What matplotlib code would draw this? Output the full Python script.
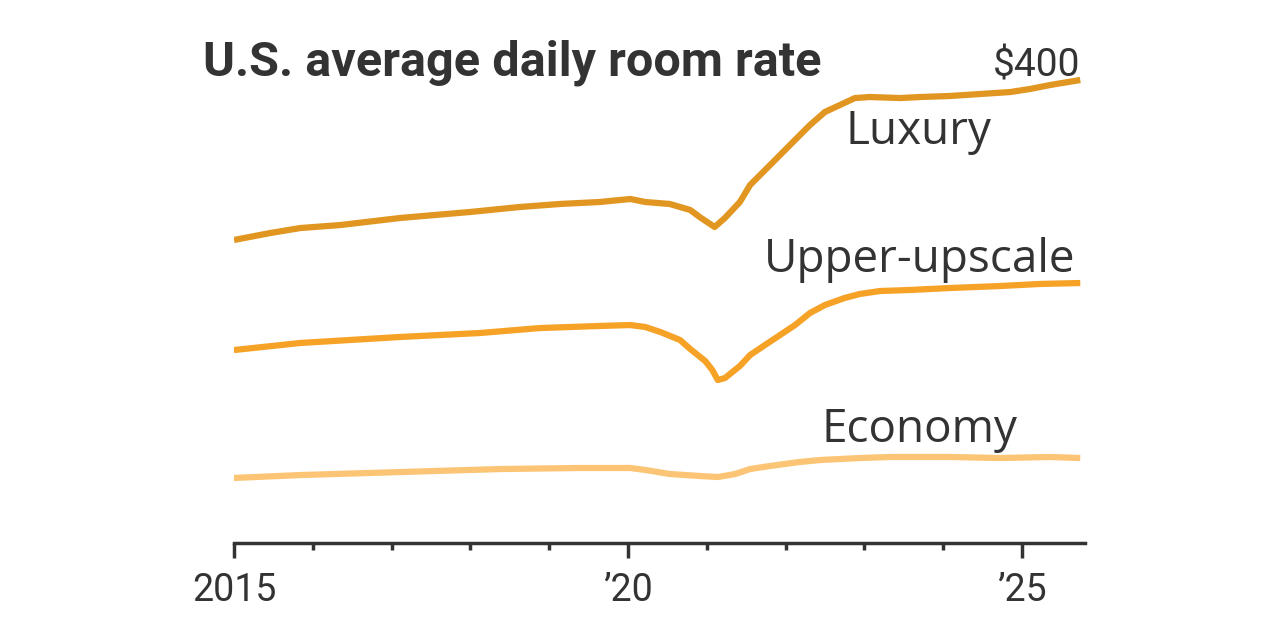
import matplotlib
matplotlib.use("Agg")
import matplotlib.pyplot as plt
import numpy as np

# decimal years and average daily rate in dollars
lux_x = [2015.00, 2015.46, 2015.84, 2016.35, 2017.11, 2018.00, 2018.63, 2019.14, 2019.64,
         2020.03, 2020.22, 2020.53, 2020.79, 2020.91, 2021.10, 2021.23, 2021.42, 2021.55,
         2021.74, 2021.93, 2022.12, 2022.31, 2022.50, 2022.69, 2022.88, 2023.07, 2023.45,
         2023.71, 2024.09, 2024.47, 2024.85, 2025.10, 2025.36, 2025.74]
lux_y = [261.8, 267.8, 272.1, 274.7, 280.8, 286.0, 290.3, 292.9, 294.6,
         297.2, 294.6, 292.9, 287.7, 281.6, 273.0, 280.8, 294.6, 309.3,
         322.2, 335.2, 348.2, 361.1, 372.4, 378.4, 384.4, 385.3, 384.4,
         385.3, 386.2, 387.9, 389.6, 392.2, 395.7, 400.0]

up_x = [2015.00, 2015.84, 2017.11, 2018.12, 2018.88, 2019.64, 2020.03, 2020.22, 2020.41,
        2020.66, 2020.79, 2020.98, 2021.07, 2021.14, 2021.23, 2021.42, 2021.55, 2021.74,
        2021.93, 2022.12, 2022.31, 2022.50, 2022.75, 2022.94, 2023.20, 2023.58, 2024.09,
        2024.72, 2025.23, 2025.74]
up_y = [166.7, 172.8, 178.0, 181.4, 185.7, 187.5, 188.3, 186.6, 182.3,
        175.4, 167.6, 157.2, 149.5, 140.8, 142.5, 152.9, 162.4, 171.1,
        179.7, 188.3, 198.7, 205.6, 211.7, 215.1, 217.7, 218.6, 220.3,
        222.0, 223.8, 224.6]

eco_x = [2015.00, 2015.84, 2017.11, 2018.38, 2019.39, 2020.03, 2020.22, 2020.53, 2020.91,
         2021.14, 2021.36, 2021.55, 2021.80, 2022.18, 2022.44, 2022.94, 2023.32, 2024.09,
         2024.72, 2025.36, 2025.74]
eco_y = [56.2, 58.7, 61.3, 63.9, 64.8, 64.8, 63.1, 59.6, 57.9,
         57.0, 59.6, 63.9, 66.5, 70.0, 71.7, 73.4, 74.3, 74.3,
         73.4, 74.3, 73.4]

tick_major = [2015, 2020, 2025]
tick_labels = ["2015", "\u201920", "\u201925"]
tick_minor = list(range(2016, 2026))

txt = "#333333"
plt.rcParams['font.family'] = ['Open Sans', 'DejaVu Sans']

fig = plt.figure(figsize=(12.8, 6.4), dpi=100)
ax = fig.add_axes([234/1280, 97/640, (1085-234)/1280, 420*1.1575/640])

ax.plot(eco_x, eco_y, color="#fcc576", lw=4.5, solid_capstyle="butt")
ax.plot(up_x, up_y, color="#f6a227", lw=4.5, solid_capstyle="butt")
ax.plot(lux_x, lux_y, color="#e09620", lw=4.5, solid_capstyle="butt")

ax.set_xlim(2015, 2025.8)
ax.set_ylim(0, 420)

for s in ["top", "right", "left"]:
    ax.spines[s].set_visible(False)
ax.spines["bottom"].set_color(txt)
ax.spines["bottom"].set_linewidth(2.5)
ax.set_yticks([])

ax.set_xticks(tick_major)
ax.set_xticklabels(tick_labels, fontsize=27, color=txt, family=['Roboto', 'DejaVu Sans'])
ax.set_xticks(tick_minor, minor=True)
ax.tick_params(axis="x", which="major", length=11, width=2.5, color=txt, pad=10)
ax.tick_params(axis="x", which="minor", length=5, width=2.5, color=txt)

ax.text(2025.74, 402.6, "$400", ha="right", va="baseline", fontsize=28, color=txt,
        family=['Roboto', 'DejaVu Sans'])
ax.text(2022.76, 345, "Luxury", ha="left", va="baseline", fontsize=33, color=txt)
ax.text(2021.72, 234, "Upper-upscale", ha="left", va="baseline", fontsize=33, color=txt)
ax.text(2022.45, 87, "Economy", ha="left", va="baseline", fontsize=33, color=txt)

fig.text(203/1280, 1 - 75/640, "U.S. average daily room rate", ha="left", va="baseline",
         fontsize=35, fontweight="bold", color=txt, family=['Roboto', 'DejaVu Sans'])

fig.savefig("out.png", dpi=100)
